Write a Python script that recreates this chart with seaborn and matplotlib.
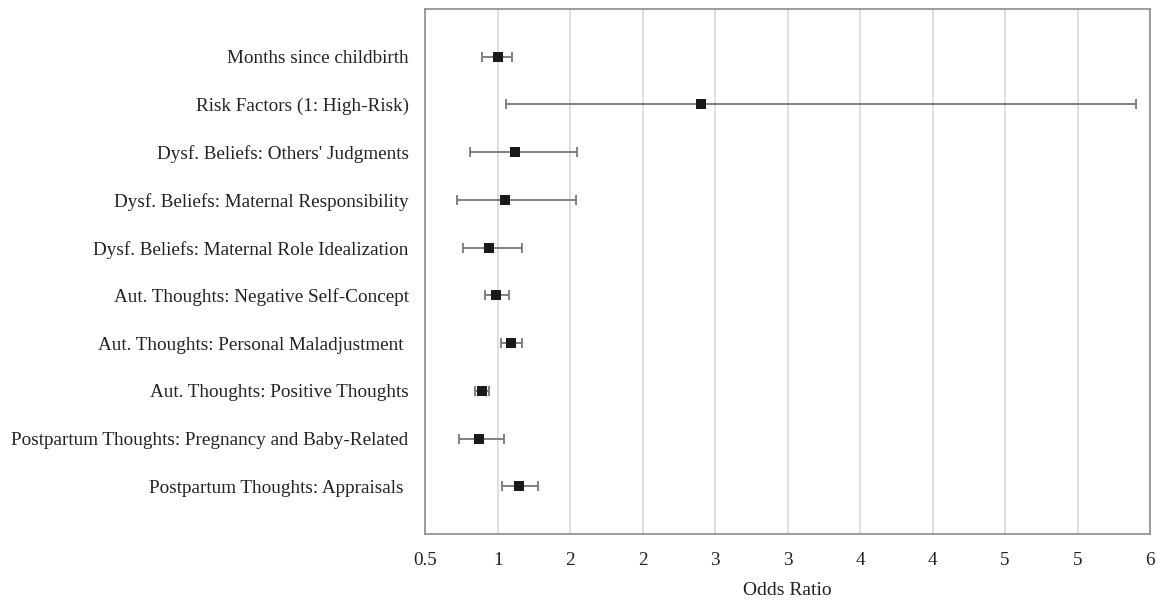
import matplotlib
matplotlib.use("Agg")
import matplotlib.pyplot as plt
import seaborn as sns
import pandas as pd
import numpy as np

labels = [
    "Months since childbirth",
    "Risk Factors (1: High-Risk)",
    "Dysf. Beliefs: Others' Judgments",
    "Dysf. Beliefs: Maternal Responsibility",
    "Dysf. Beliefs: Maternal Role Idealization",
    "Aut. Thoughts: Negative Self-Concept",
    "Aut. Thoughts: Personal Maladjustment ",
    "Aut. Thoughts: Positive Thoughts",
    "Postpartum Thoughts: Pregnancy and Baby-Related",
    "Postpartum Thoughts: Appraisals ",
]
odds = [1.00, 2.40, 1.12, 1.05, 0.94, 0.99, 1.09, 0.89, 0.87, 1.15]
ci_low = [0.89, 1.06, 0.81, 0.72, 0.76, 0.91, 1.025, 0.845, 0.73, 1.03]
ci_high = [1.10, 5.40, 1.55, 1.54, 1.17, 1.08, 1.165, 0.94, 1.045, 1.28]
tick_values = [0.5, 1.0, 1.5, 2.0, 2.5, 3.0, 3.5, 4.0, 4.5, 5.0, 5.5]
tick_labels = ["0.5", "1", "2", "2", "3", "3", "4", "4", "5", "5", "6"]

sns.set_theme(style="white")
plt.rcParams['font.family'] = ['Liberation Serif', 'DejaVu Serif']

df = pd.DataFrame({"label": labels, "odds": odds, "lo": ci_low, "hi": ci_high})
df["pos"] = np.arange(len(df))

fig = plt.figure(figsize=(11.57, 6.0), dpi=100)
ax = fig.add_axes([0.3675, 0.11, 0.6265, 0.875])

ax.errorbar(df["odds"], df["pos"],
            xerr=[df["odds"] - df["lo"], df["hi"] - df["odds"]],
            fmt="none", ecolor="#777777", elinewidth=1.3, capsize=3.5, capthick=1.3, zorder=2)
sns.scatterplot(data=df, x="odds", y="pos", marker="s", s=55, color="#1a1a1a",
                edgecolor="#1a1a1a", linewidth=0, ax=ax, zorder=3)

ax.set_xlim(0.5, 5.5)
ax.set_ylim(len(df), -1)
ax.set_xticks(tick_values)
ax.set_xticklabels(tick_labels, fontsize=13.8, color="#222222")
ax.set_yticks(df["pos"])
ax.set_yticklabels(df["label"], fontsize=13.8, color="#222222")
ax.set_xlabel("Odds Ratio", fontsize=14, color="#222222", labelpad=9)
ax.set_ylabel("")
ax.tick_params(axis="x", length=0, pad=13)
ax.tick_params(axis="y", length=0, pad=12)
ax.xaxis.grid(True, color="#d9d9d9", linewidth=1.2)
ax.yaxis.grid(False)
for s in ax.spines.values():
    s.set_color("#8c8c8c")
    s.set_linewidth(1.2)

fig.savefig("out.png", dpi=100)
